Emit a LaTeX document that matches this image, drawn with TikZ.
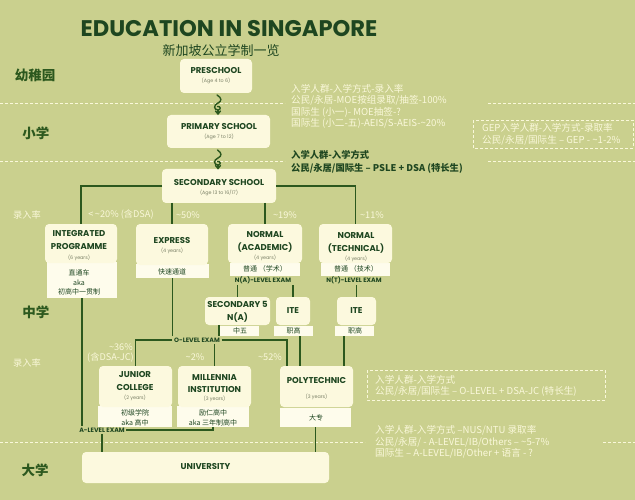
\documentclass[tikz,border=0pt]{standalone}
\usepackage{fontspec}
\setmainfont{Poppins}
\newfontfamily\cjk{Noto Sans CJK SC}
\newfontfamily\pops{Poppins}
\definecolor{bgc}{RGB}{202,208,142}
\definecolor{boxc}{RGB}{252,249,222}
\definecolor{subc}{RGB}{254,252,236}
\definecolor{dg}{RGB}{30,70,32}
\definecolor{lg}{RGB}{44,88,30}
\definecolor{cr}{RGB}{250,248,218}
\definecolor{gy}{RGB}{120,126,100}
\tikzset{
  mbox/.style={fill=boxc, rounded corners=4pt, inner sep=0pt, outer sep=0pt},
  sbox/.style={fill=subc, inner sep=0pt, outer sep=0pt},
  hd/.style={font=\pops\bfseries\fontsize{8.5}{9.5}\selectfont, text=dg, inner sep=0pt},
  age/.style={font=\pops\fontsize{4.8}{5.5}\selectfont, text=gy, inner sep=0pt},
  zh/.style={font=\cjk\fontsize{7}{8}\selectfont, text=dg, inner sep=0pt},
  exam/.style={font=\pops\bfseries\fontsize{6.3}{7}\selectfont, text=dg, inner sep=1.5pt},
  side/.style={font=\cjk\bfseries\fontsize{13.5}{15}\selectfont, text=lg, inner sep=0pt},
  pct/.style={font=\cjk\fontsize{9.2}{10}\selectfont, text=cr, inner sep=0pt},
  note/.style={font=\cjk\fontsize{9.6}{11}\selectfont, text=cr, inner sep=0pt, anchor=west},
  bnote/.style={font=\cjk\bfseries\fontsize{9.3}{11}\selectfont, text=dg, inner sep=0pt, anchor=west},
  ln/.style={draw=lg, line width=1.8pt},
  dsh/.style={draw=cr, line width=0.8pt, dash pattern=on 3pt off 2pt},
  sq/.style={draw=lg, line width=1.4pt, line cap=round}
}
\begin{document}
\begin{tikzpicture}[x=1pt,y=-1pt]
\fill[bgc] (0,0) rectangle (635,500);
\useasboundingbox (0,0) rectangle (635,500);

% dashed separators
\draw[dsh] (0,103) -- (285,103);
\draw[dsh] (488,103) -- (635,103);
\draw[dsh] (0,161) -- (285,161);
\draw[dsh] (488,161) -- (635,161);
\draw[dsh] (0,442) -- (365,442);
\draw[dsh] (603,442) -- (635,442);
\draw[dsh] (473,120) rectangle (633,148);
\draw[dsh] (367,370) rectangle (605,400);

% title
\node[font=\pops\bfseries\fontsize{22.6}{24}\selectfont, text=dg, inner sep=0pt] (title) at (229,29) {EDUCATION IN SINGAPORE};
\node[font=\cjk\fontsize{13}{14}\selectfont, text=dg, inner sep=0pt] (subtitle) at (221,51) {新加坡公立学制一览};

% side labels
\node[side] (lk) at (35,75) {幼稚园};
\node[side] (lp) at (36,133) {小学};
\node[side] (ls) at (36,312) {中学};
\node[side] (lu) at (35,470) {大学};

% boxes
\node[mbox, minimum width=72pt, minimum height=34pt] (pre) at (216,76) {};
\node[mbox, minimum width=103pt, minimum height=33pt] (pri) at (218.5,131.5) {};
\node[mbox, minimum width=114pt, minimum height=34pt] (sec) at (219,186) {};

\node[sbox, minimum width=70pt, minimum height=36pt] (ips) at (82,280) {};
\node[mbox, minimum width=72pt, minimum height=39pt] (ip) at (81,243.5) {};
\node[sbox, minimum width=73pt, minimum height=14pt] (exps) at (172.5,271) {};
\node[mbox, minimum width=72pt, minimum height=41pt] (exp) at (172,244.5) {};
\node[sbox, minimum width=70pt, minimum height=13pt] (nas) at (265,269.5) {};
\node[mbox, minimum width=74pt, minimum height=39pt] (na) at (265,243.5) {};
\node[sbox, minimum width=69pt, minimum height=13pt] (nts) at (355.5,269.5) {};
\node[mbox, minimum width=73pt, minimum height=39pt] (nt) at (355.5,243.5) {};

\node[sbox, minimum width=39pt, minimum height=10pt] (s5s) at (239.5,331) {};
\node[mbox, minimum width=65pt, minimum height=28pt] (s5) at (237.5,311) {};
\node[sbox, minimum width=39pt, minimum height=10pt] (ite1s) at (293.5,331) {};
\node[mbox, minimum width=34pt, minimum height=28pt] (ite1) at (293,311) {};
\node[sbox, minimum width=39pt, minimum height=10pt] (ite2s) at (354.5,331) {};
\node[mbox, minimum width=39pt, minimum height=28pt] (ite2) at (356.5,311) {};

\node[sbox, minimum width=74pt, minimum height=21pt] (jcs) at (135,416.5) {};
\node[mbox, minimum width=73pt, minimum height=41pt] (jc) at (135.5,386.5) {};
\node[sbox, minimum width=72pt, minimum height=21pt] (mis) at (213,416.5) {};
\node[mbox, minimum width=73pt, minimum height=41pt] (mi) at (214.5,386.5) {};
\node[sbox, minimum width=71pt, minimum height=19pt] (polys) at (315.5,417.5) {};
\node[mbox, minimum width=73pt, minimum height=41pt] (poly) at (316.5,386.5) {};

\node[mbox, minimum width=247pt, minimum height=31pt] (uni) at (205.5,467.5) {};

% box texts
\node[hd] (tpre) at (216,71) {PRESCHOOL};
\node[age] (apre) at (216,80.5) {(Age 4 to 6)};
\node[hd] (tpri) at (219,127) {PRIMARY SCHOOL};
\node[age] (apri) at (219,136.5) {(Age 7 to 12)};
\node[hd] (tsec) at (219,183) {SECONDARY SCHOOL};
\node[age] (asec) at (219,192.5) {(Age 13 to 16/17)};

\node[hd] (tip1) at (79,234) {INTEGRATED};
\node[hd] (tip2) at (79,247) {PROGRAMME};
\node[age] (aip) at (79,258) {(6 years)};
\node[zh] (zip1) at (79,273) {直通车};
\node[zh] (zip2) at (79,283) {aka};
\node[zh] (zip3) at (79,292) {初高中一贯制};

\node[hd] (texp) at (172,241) {EXPRESS};
\node[age] (aexp) at (172,250.5) {(4 years)};
\node[zh] (zexp) at (172,272) {快速通道};

\node[hd] (tna1) at (265,235) {NORMAL};
\node[hd] (tna2) at (265,248) {(ACADEMIC)};
\node[age] (ana) at (265,258) {(4 years)};
\node[zh] (zna) at (265,269) {普通 （学术）};
\node[exam] (naexam) at (263,280) {N(A)-LEVEL EXAM};

\node[hd] (tnt1) at (356,236) {NORMAL};
\node[hd] (tnt2) at (356,249) {(TECHNICAL)};
\node[age] (ant) at (356,258.5) {(4 years)};
\node[zh] (znt) at (356,269) {普通 （技术）};
\node[exam] (ntexam) at (354,280) {N(T)-LEVEL EXAM};

\node[hd] (ts51) at (237.5,304) {SECONDARY 5};
\node[hd] (ts52) at (237.5,318) {N(A)};
\node[zh] (zs5) at (240,331) {中五};
\node[hd] (tite1) at (293,311) {ITE};
\node[zh] (zite1) at (293.5,331) {职高};
\node[hd] (tite2) at (356.5,311) {ITE};
\node[zh] (zite2) at (355,331) {职高};

\node[exam] (olev) at (197,340) {O-LEVEL EXAM};

\node[hd] (tjc1) at (135,375) {JUNIOR};
\node[hd] (tjc2) at (135,388) {COLLEGE};
\node[age] (ajc) at (135,398) {(2 years)};
\node[zh] (zjc1) at (135,413) {初级学院};
\node[zh] (zjc2) at (135,423) {aka 高中};

\node[hd] (tmi1) at (214.5,378) {MILLENNIA};
\node[hd] (tmi2) at (214.5,389.5) {INSTITUTION};
\node[age] (ami) at (214.5,398.5) {(3 years)};
\node[zh] (zmi1) at (213,413) {励仁高中};
\node[zh] (zmi2) at (213,423) {aka 三年制高中};

\node[hd] (tpoly) at (316.5,381) {POLYTECHNIC};
\node[age] (apoly) at (316.5,397) {(3 years)};
\node[zh] (zpoly) at (316,418) {大专};

\node[exam] (alev) at (102,430) {A-LEVEL EXAM};
\node[hd] (tuni) at (205.5,467) {UNIVERSITY};

% percentages
\node[pct] (r1) at (27,215) {录入率};
\node[pct] (p1) at (121,215) {<\,\textasciitilde20\% (含DSA)};
\node[pct] (p2) at (188,215) {\textasciitilde50\%};
\node[pct] (p3) at (285,215) {\textasciitilde19\%};
\node[pct] (p4) at (372,215) {\textasciitilde11\%};
\node[pct, anchor=east] (p5) at (133,347) {\textasciitilde36\%};
\node[pct, anchor=east] (p6) at (134,358) {(含DSA-JC)};
\node[pct] (p7) at (195,357) {\textasciitilde2\%};
\node[pct] (p8) at (270,357) {\textasciitilde52\%};
\node[pct] (r2) at (27,363) {录入率};

% notes
\node[note] (n1) at (291,89) {入学人群-入学方式-录入率};
\node[note] (n2) at (291,100.5) {公民/永居-MOE按组录取/抽签-100\%};
\node[note] (n3) at (291,112) {国际生 (小一)- MOE抽签-?};
\node[note] (n4) at (291,123.5) {国际生 (小二-五)-AEIS/S-AEIS-\textasciitilde20\%};
\node[bnote] (n5) at (291,155) {入学人群-入学方式};
\node[bnote] (n6) at (291,168) {公民/永居/国际生 – PSLE + DSA (特长生)};
\node[note] (g1) at (482,128) {GEP入学人群-入学方式-录取率};
\node[note] (g2) at (482,140) {公民/永居/国际生 – GEP - \textasciitilde1-2\%};
\node[note] (d1) at (375,380) {入学人群-入学方式};
\node[note] (d2) at (375,391) {公民/永居/国际生 – O-LEVEL + DSA-JC (特长生)};
\node[note] (u1) at (375,430) {入学人群-入学方式 –NUS/NTU 录取率};
\node[note] (u2) at (375,442) {公民/永居/ - A-LEVEL/IB/Others – \textasciitilde5-7\%};
\node[note] (u3) at (375,453) {国际生 – A-LEVEL/IB/Other + 语言 - ?};

% squiggles
\draw[sq] (pre.south) ++(1,2) .. controls (222,98) and (222,101) .. (218,103) .. controls (213,105) and (214,110) .. (218,110) .. controls (221,110) and (221,106) .. (217.5,106.5);
\draw[sq] (218,110) -- (218,113.5);
\draw[sq] (215.5,111) -- (218,114) -- (220.5,111);
\draw[sq] (pri.south) ++(-1,2) .. controls (222,153) and (222,156) .. (218,158) .. controls (213,160) and (214,165) .. (218,165) .. controls (221,165) and (221,161) .. (217.5,161.5);
\draw[sq] (218,165) -- (218,168);
\draw[sq] (215.5,165.5) -- (218,168.5) -- (220.5,165.5);

% connectors
\coordinate (pA) at (287,366);
\coordinate (s5b) at (219,325);
\coordinate (i1b) at (300,336);
\coordinate (i2b) at (344,336);
\draw[ln] (sec.west) -| (ip.north);
\draw[ln] (sec.east) -| (nt.north);
\draw[ln] (exp.north |- sec.south) -- (exp.north);
\draw[ln] (na.north |- sec.south) -- (na.north);
\draw[ln] (ips.south) -- (ips.south |- alev.north);
\draw[ln] (alev.south) -- (alev.south |- uni.north);
\draw[ln] (alev.east) -| (mis.south);
\draw[ln] (exps.south) -- (exps.south |- olev.north);
\draw[ln] (olev.west) -| (jc.north);
\draw[ln] (olev.east) -| (pA);
\draw[ln] (mi.north |- olev.south) -- (mi.north);
\draw[ln] (s5b) -- (s5b |- olev.north);
\draw[ln] (s5.north |- naexam.south) -- (s5.north);
\draw[ln] (ite1.north |- naexam.south) -- (ite1.north);
\draw[ln] (ite2.north |- ntexam.south) -- (ite2.north);
\draw[ln] (i1b) -- (i1b |- poly.north);
\draw[ln] (i2b) -- (i2b |- poly.north);
\draw[ln] (polys.south) -- (polys.south |- uni.north);
\end{tikzpicture}
\end{document}
